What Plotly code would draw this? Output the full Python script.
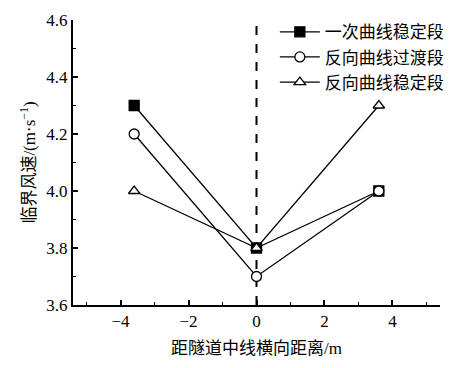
import plotly.graph_objects as go

x_vals = [-3.6, 0, 3.6]
series_names = ["一次曲线稳定段", "反向曲线过渡段", "反向曲线稳定段"]
s1 = [4.3, 3.8, 4.0]
s2 = [4.2, 3.7, 4.0]
s3 = [4.0, 3.8, 4.3]
x_ticks = [-4, -2, 0, 2, 4]
x_tick_text = ["−4", "−2", "0", "2", "4"]
y_ticks = [3.6, 3.8, 4.0, 4.2, 4.4, 4.6]

cjk = "Noto Sans CJK SC"
serif = "Liberation Serif"

fig = go.Figure()
styles = [
    dict(symbol="square", color="black"),
    dict(symbol="circle", color="white"),
    dict(symbol="triangle-up", color="white"),
]
for name, ys, st in zip(series_names, [s1, s2, s3], styles):
    fig.add_trace(go.Scatter(
        x=x_vals, y=ys, name=name, mode="lines+markers",
        line=dict(color="black", width=1.3),
        marker=dict(size=10, line=dict(color="black", width=1.3), **st),
    ))

fig.add_shape(type="line", x0=0, x1=0, y0=3.6, y1=4.6, xref="x", yref="y",
              line=dict(color="black", width=2, dash="dash"), layer="below")

span = '<span style="font-family:Liberation Serif">'
fig.update_layout(
    width=460, height=360,
    margin=dict(l=65, r=28, t=12, b=63, autoexpand=False),
    paper_bgcolor="white", plot_bgcolor="white",
    showlegend=True,
    legend=dict(x=0.55, y=1.02, xanchor="left", yanchor="top",
                font=dict(family=cjk, size=17, color="black"),
                bgcolor="rgba(0,0,0,0)", tracegroupgap=0, itemwidth=40),
    xaxis=dict(range=[-5.4, 5.4], tickvals=x_ticks, ticktext=x_tick_text,
               showline=True, linecolor="black", linewidth=2, mirror=False,
               ticks="inside", ticklen=5, tickwidth=1.5, tickcolor="black",
               minor=dict(dtick=1, ticks="inside", ticklen=3, tickcolor="black", tickwidth=1.2),
               showgrid=False, zeroline=False, automargin=False,
               tickfont=dict(family=serif, size=17, color="black"),
               title=dict(text="距隧道中线横向距离" + span + "/m</span>",
                          font=dict(family=cjk, size=17, color="black"), standoff=12)),
    yaxis=dict(range=[3.6, 4.6], tickvals=y_ticks, tickformat=".1f",
               showline=True, linecolor="black", linewidth=2, mirror=False,
               ticks="inside", ticklen=5, tickwidth=1.5, tickcolor="black",
               minor=dict(dtick=0.1, ticks="inside", ticklen=3, tickcolor="black", tickwidth=1.2),
               showgrid=False, zeroline=False, automargin=False,
               tickfont=dict(family=serif, size=17, color="black"),
               title=dict(text="临界风速" + span + "/(m·s<sup>−1</sup>)</span>",
                          font=dict(family=cjk, size=17, color="black"), standoff=6)),
)

fig.write_html("out.html")
